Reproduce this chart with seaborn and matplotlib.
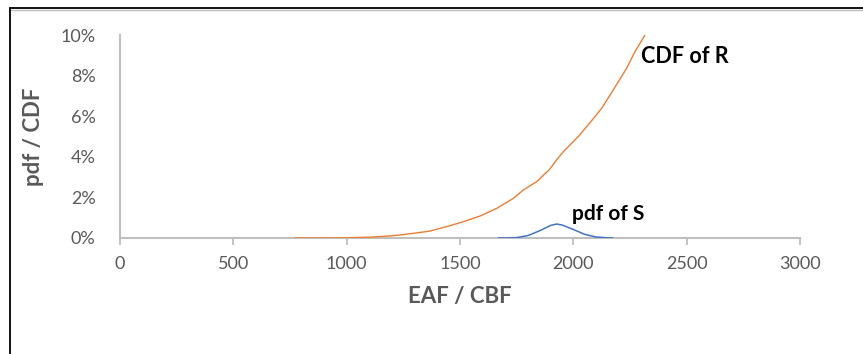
import matplotlib
matplotlib.use("Agg")
import matplotlib.pyplot as plt
import seaborn as sns
import pandas as pd
from matplotlib.lines import Line2D
from matplotlib.ticker import FuncFormatter

# ---- data ----
cdf_x = [772, 900, 1000, 1100, 1147, 1200, 1235, 1294, 1367, 1441, 1514, 1588,
         1662, 1735, 1779, 1838, 1897, 1926, 1960, 2022, 2075, 2125, 2176, 2235,
         2272, 2316]
cdf_y = [0.0, 0.0, 0.01, 0.04, 0.07, 0.11, 0.15, 0.23, 0.34, 0.56, 0.80, 1.08,
         1.46, 1.95, 2.36, 2.77, 3.40, 3.85, 4.30, 5.00, 5.70, 6.39, 7.29, 8.36,
         9.18, 10.0]
pdf_x = [1669, 1700, 1750, 1800, 1850, 1900, 1926, 1950, 2000, 2050, 2100, 2150, 2175]
pdf_y = [0.0, 0.0, 0.02, 0.12, 0.35, 0.62, 0.69, 0.64, 0.42, 0.18, 0.05, 0.01, 0.0]
x_ticks = [0, 500, 1000, 1500, 2000, 2500, 3000]
y_ticks = [0, 2, 4, 6, 8, 10]

cdf_df = pd.DataFrame({"x": cdf_x, "y": cdf_y})
pdf_df = pd.DataFrame({"x": pdf_x, "y": pdf_y})

sns.set_style("white")
plt.rcParams["font.family"] = ["Lato", "DejaVu Sans"]

fig = plt.figure(figsize=(8.63, 3.54), dpi=100)
ax = fig.add_axes([120 / 863, 1 - 238 / 354, 680 / 863, 203 / 354])

sns.lineplot(data=cdf_df, x="x", y="y", ax=ax, color="#ED7D31", linewidth=1.0)
sns.lineplot(data=pdf_df, x="x", y="y", ax=ax, color="#4472C4", linewidth=1.1)

ax.set_xlim(0, 3000)
ax.set_ylim(0, 10)
ax.set_xticks(x_ticks)
ax.set_yticks(y_ticks)
ax.yaxis.set_major_formatter(FuncFormatter(lambda v, p: f"{v:.0f}%"))

for s in ["top", "right"]:
    ax.spines[s].set_visible(False)
for s in ["left", "bottom"]:
    ax.spines[s].set_color("#BFBFBF")
    ax.spines[s].set_linewidth(1.5)
    ax.spines[s].set_zorder(0)

ax.tick_params(axis="x", which="both", bottom=True, length=5, width=1.3,
               color="#BFBFBF", labelcolor="#595959", labelsize=13, pad=8)
ax.tick_params(axis="y", left=False, labelcolor="#595959", labelsize=13, pad=14)

ax.set_xlabel("EAF / CBF", fontsize=16, fontweight="bold", color="#595959", labelpad=10)
ax.set_ylabel("pdf / CDF", fontsize=16, fontweight="bold", color="#595959", labelpad=12)

ax.text(2300, 8.95, "CDF of R", fontsize=15.5, fontweight="bold", color="black",
        va="center", ha="left")
ax.text(1995, 1.2, "pdf of S", fontsize=15, fontweight="bold", color="black",
        va="center", ha="left")

# chart-area border (as in the Excel crop)
fig.add_artist(Line2D([9.5 / 863, 1], [1 - 9.7 / 354, 1 - 9.7 / 354],
                      transform=fig.transFigure, color="#BFBFBF", linewidth=1))
fig.add_artist(Line2D([9.5 / 863, 1], [1 - 8.3 / 354, 1 - 8.3 / 354],
                      transform=fig.transFigure, color="black", linewidth=1.3))
fig.add_artist(Line2D([9.8 / 863, 9.8 / 863], [0, 1 - 8.3 / 354],
                      transform=fig.transFigure, color="black", linewidth=1.3))

fig.savefig("out.png", dpi=100)
